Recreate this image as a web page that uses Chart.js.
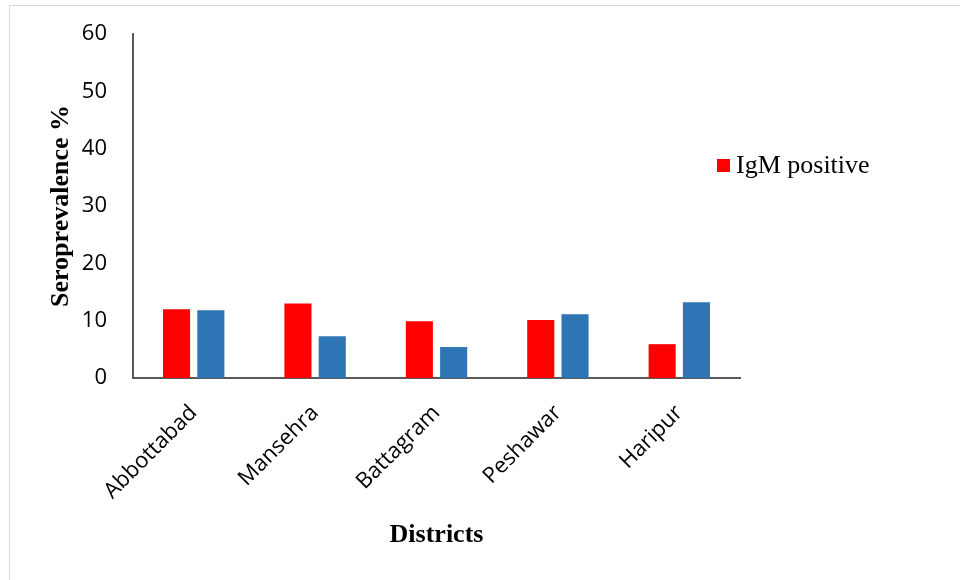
<!DOCTYPE html>
<html>
<head>
<meta charset="utf-8">
<script src="https://cdn.jsdelivr.net/npm/chart.js@4"></script>
<style>
  html, body { margin: 0; padding: 0; background: #fff; overflow: hidden; }
  #wrap { position: relative; width: 960px; height: 580px; }
  #frame {
    position: absolute; left: 9px; top: 5px; width: 1000px; height: 1000px;
    border: 1.5px solid #d9d9d9; pointer-events: none;
  }
</style>
</head>
<body>
<div id="wrap">
  <canvas id="chart" width="960" height="580"></canvas>
  <div id="frame"></div>
</div>
<script>
const districts = ["Abbottabad", "Mansehra", "Battagram", "Peshawar", "Haripur"];
const igmPositive = [12.0, 13.0, 9.9, 10.1, 5.9];
const iggPositive = [11.8, 7.3, 5.4, 11.1, 13.2];
const yTicks = [0, 10, 20, 30, 40, 50, 60];

const red = "#FF0000";
const blue = "#2E75B6";

// legend in the reference only lists the red series, drawn beside the plot
const sideLegend = {
  id: "sideLegend",
  afterDraw(chart) {
    const { ctx, chartArea } = chart;
    const x = chartArea.right - 23;
    const y = chartArea.top + 131;
    ctx.save();
    ctx.fillStyle = red;
    ctx.fillRect(x, y - 6, 13, 13);
    ctx.fillStyle = "#000";
    ctx.font = "26px 'Liberation Serif', serif";
    ctx.textBaseline = "middle";
    ctx.fillText(chart.data.datasets[0].label, x + 19, y + 1);
    ctx.restore();
  }
};

new Chart(document.getElementById("chart").getContext("2d"), {
  type: "bar",
  data: {
    labels: districts,
    datasets: [
      { label: "IgM positive", data: igmPositive, backgroundColor: red },
      { label: "IgG positive", data: iggPositive, backgroundColor: blue }
    ]
  },
  options: {
    responsive: false,
    animation: false,
    datasets: { bar: { categoryPercentage: 0.565, barPercentage: 0.79 } },
    layout: { padding: { left: 44, right: 220, top: 34, bottom: 29 } },
    plugins: {
      legend: { display: false },
      tooltip: { enabled: false }
    },
    scales: {
      x: {
        afterFit(scale) { scale.height = 173; },
        grid: { display: false, drawTicks: false },
        border: { color: "#595959", width: 2 },
        ticks: {
          color: "#000",
          font: { family: "'Open Sans', sans-serif", size: 22 },
          minRotation: 45,
          maxRotation: 45,
          padding: 22
        },
        title: {
          display: true,
          text: "Districts",
          color: "#000",
          font: { family: "'Liberation Serif', serif", size: 26, weight: "bold" },
          padding: { top: 0, bottom: 0 }
        }
      },
      y: {
        min: 0,
        max: 60,
        afterBuildTicks(scale) {
          scale.ticks = yTicks.map(v => ({ value: v }));
        },
        afterFit(scale) {
          scale.width = 89;
          scale.paddingTop = 0;
        },
        grid: { display: false, drawTicks: false },
        border: { color: "#595959", width: 2 },
        ticks: {
          color: "#000",
          font: { family: "'Open Sans', sans-serif", size: 22 },
          padding: 26
        },
        title: {
          display: true,
          text: "Seroprevalence %",
          color: "#000",
          font: { family: "'Liberation Serif', serif", size: 26, weight: "bold" },
          padding: { top: 2, bottom: 0 }
        }
      }
    }
  },
  plugins: [sideLegend]
});
</script>
</body>
</html>
